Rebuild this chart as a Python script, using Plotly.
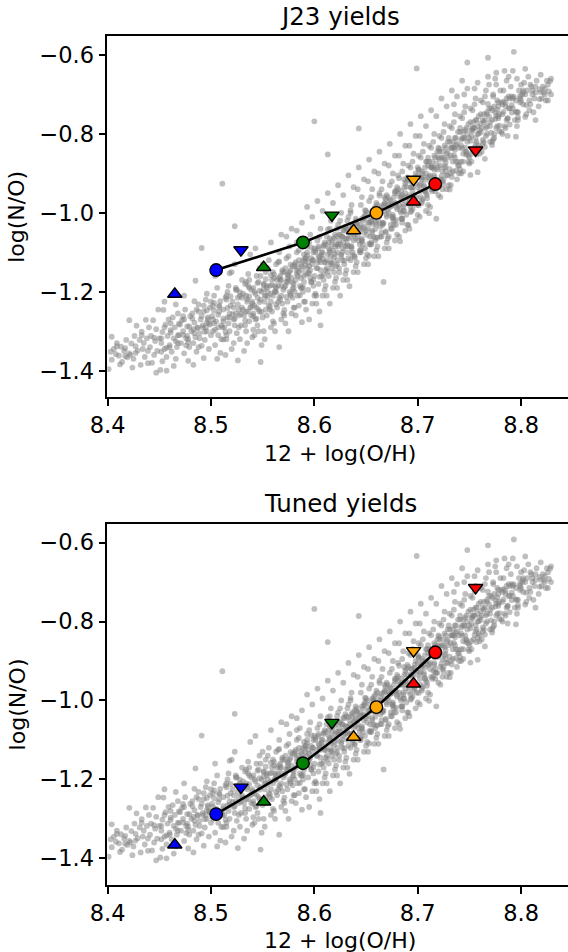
import plotly.graph_objects as go

# ---------------- data ----------------
# gray background sample: (12+log(O/H), log(N/O)) pairs
cloud_points = [
    (8.401,-1.396),(8.404,-1.372),(8.406,-1.345),(8.408,-1.358),(8.409,-1.33),(8.403,-1.352),
    (8.411,-1.362),(8.413,-1.339),(8.414,-1.378),(8.416,-1.35),(8.418,-1.322),(8.419,-1.366),(8.412,-1.384),(8.417,-1.343),
    (8.421,-1.356),(8.423,-1.331),(8.425,-1.37),(8.426,-1.312),(8.428,-1.286),(8.429,-1.349),(8.424,-1.392),(8.427,-1.338),(8.422,-1.36),
    (8.431,-1.322),(8.433,-1.301),(8.434,-1.345),(8.436,-1.365),(8.437,-1.271),(8.438,-1.318),(8.439,-1.35),(8.432,-1.385),(8.435,-1.33),(8.44,-1.29),
    (8.441,-1.34),(8.442,-1.312),(8.444,-1.272),(8.445,-1.36),(8.446,-1.325),(8.447,-1.295),(8.448,-1.35),(8.449,-1.245),(8.443,-1.38),(8.447,-1.405),(8.45,-1.318),
    (8.451,-1.398),(8.452,-1.33),(8.453,-1.302),(8.454,-1.246),(8.455,-1.345),(8.456,-1.283),(8.457,-1.365),(8.458,-1.312),(8.459,-1.27),(8.46,-1.34),(8.455,-1.225),(8.453,-1.376),
    (8.461,-1.303),(8.462,-1.352),(8.463,-1.265),(8.464,-1.318),(8.465,-1.29),(8.466,-1.37),(8.467,-1.34),(8.468,-1.255),(8.469,-1.31),(8.47,-1.283),(8.464,-1.388),(8.466,-1.232),
    (8.471,-1.33),(8.472,-1.272),(8.473,-1.3),(8.474,-1.356),(8.475,-1.245),(8.476,-1.318),(8.477,-1.288),(8.478,-1.375),(8.479,-1.34),(8.48,-1.262),(8.474,-1.21),(8.477,-1.312),
    (8.481,-1.3),(8.482,-1.255),(8.483,-1.33),(8.484,-1.278),(8.485,-1.172),(8.486,-1.352),(8.487,-1.29),(8.488,-1.232),(8.489,-1.318),(8.49,-1.27),(8.483,-1.385),(8.486,-1.245),(8.488,-1.34),(8.484,-1.305),
    (8.491,-1.089),(8.492,-1.285),(8.493,-1.25),(8.494,-1.322),(8.495,-1.22),(8.496,-1.3),(8.497,-1.265),(8.498,-1.345),(8.499,-1.24),(8.5,-1.31),(8.493,-1.368),(8.496,-1.205),(8.498,-1.28),(8.495,-1.29),(8.491,-1.337),
    (8.501,-1.262),(8.502,-1.3),(8.503,-1.228),(8.504,-1.335),(8.505,-1.275),(8.506,-1.19),(8.507,-1.31),(8.508,-1.25),(8.509,-1.355),(8.51,-1.285),(8.503,-1.21),(8.506,-1.37),(8.508,-1.238),(8.504,-1.16),(8.51,-1.32),(8.502,-1.27),
    (8.511,-0.926),(8.512,-1.245),(8.513,-1.29),(8.514,-1.215),(8.515,-1.32),(8.516,-1.265),(8.517,-1.185),(8.518,-1.3),(8.519,-1.235),(8.52,-1.345),(8.512,-1.275),(8.514,-1.36),(8.516,-1.2),(8.518,-1.255),(8.52,-1.15),(8.515,-1.31),(8.517,-1.28),
    (8.521,-1.225),(8.522,-1.27),(8.523,-1.034),(8.524,-1.19),(8.525,-1.305),(8.526,-1.374),(8.527,-1.245),(8.528,-1.21),(8.529,-1.285),(8.53,-1.17),(8.522,-1.33),(8.524,-1.255),(8.526,-1.215),(8.528,-1.32),(8.53,-1.24),(8.523,-1.13),(8.527,-1.29),(8.525,-1.195),
    (8.531,-1.205),(8.532,-1.26),(8.533,-1.18),(8.534,-1.3),(8.535,-1.225),(8.536,-1.155),(8.537,-1.275),(8.538,-1.24),(8.539,-1.195),(8.54,-1.315),(8.532,-1.35),(8.534,-1.21),(8.536,-1.25),(8.538,-1.105),(8.54,-1.23),(8.533,-1.285),(8.537,-1.17),(8.535,-1.33),(8.539,-1.26),
    (8.541,-1.19),(8.542,-1.235),(8.543,-1.27),(8.544,-1.16),(8.545,-1.215),(8.546,-1.3),(8.547,-1.25),(8.548,-1.378),(8.549,-1.2),(8.55,-1.13),(8.542,-1.31),(8.544,-1.24),(8.546,-1.175),(8.548,-1.22),(8.55,-1.265),(8.543,-1.09),(8.545,-1.285),(8.547,-1.14),(8.549,-1.335),(8.541,-1.255),
    (8.551,-1.18),(8.552,-1.225),(8.553,-1.15),(8.554,-1.26),(8.555,-1.2),(8.556,-1.12),(8.557,-1.245),(8.558,-1.29),(8.559,-1.17),(8.56,-1.21),(8.552,-1.32),(8.554,-1.19),(8.556,-1.235),(8.558,-1.075),(8.56,-1.275),(8.553,-1.21),(8.555,-1.14),(8.557,-1.185),(8.559,-1.25),(8.551,-1.3),(8.558,-1.205),
    (8.561,-1.165),(8.562,-1.2),(8.563,-1.13),(8.564,-1.24),(8.565,-1.185),(8.566,-1.1),(8.567,-1.22),(8.568,-1.27),(8.569,-1.15),(8.57,-1.195),(8.562,-1.3),(8.564,-1.17),(8.566,-1.215),(8.568,-1.055),(8.57,-1.255),(8.563,-1.19),(8.565,-1.125),(8.567,-1.16),(8.569,-1.23),(8.561,-1.28),(8.568,-1.185),(8.566,-1.34),
    (8.571,-1.15),(8.572,-1.185),(8.573,-1.115),(8.574,-1.225),(8.575,-1.17),(8.576,-1.085),(8.577,-1.205),(8.578,-1.255),(8.579,-1.135),(8.58,-1.18),(8.572,-1.28),(8.574,-1.155),(8.576,-1.2),(8.578,-1.04),(8.58,-1.24),(8.573,-1.175),(8.575,-1.11),(8.577,-1.145),(8.579,-1.215),(8.571,-1.26),(8.578,-1.165),(8.575,-1.3),(8.573,-1.06),
    (8.581,-1.13),(8.582,-1.17),(8.583,-1.1),(8.584,-1.21),(8.585,-1.15),(8.586,-1.07),(8.587,-1.19),(8.588,-1.277),(8.589,-1.12),(8.59,-1.16),(8.582,-1.26),(8.584,-1.14),(8.586,-1.185),(8.588,-1.025),(8.59,-1.225),(8.583,-1.155),(8.585,-1.095),(8.587,-1.13),(8.589,-1.2),(8.581,-1.24),(8.588,-1.145),(8.585,-1.235),(8.583,-1.045),(8.59,-1.105),
    (8.591,-1.115),(8.592,-1.155),(8.593,-1.085),(8.594,-1.195),(8.595,-1.135),(8.596,-1.055),(8.597,-1.175),(8.598,-1.23),(8.599,-1.1),(8.6,-0.768),(8.592,-1.245),(8.594,-1.125),(8.596,-1.165),(8.598,-1.01),(8.6,-1.21),(8.593,-1.14),(8.595,-1.075),(8.597,-1.115),(8.599,-1.185),(8.591,-1.225),(8.598,-1.13),(8.595,-1.27),(8.593,-0.985),(8.6,-1.09),
    (8.601,-1.1),(8.602,-1.14),(8.603,-1.07),(8.604,-1.18),(8.605,-1.12),(8.606,-1.04),(8.607,-1.16),(8.608,-1.21),(8.609,-1.085),(8.61,-1.125),(8.602,-1.23),(8.604,-1.11),(8.606,-1.285),(8.608,-0.995),(8.61,-1.195),(8.603,-1.125),(8.605,-1.06),(8.607,-1.1),(8.609,-1.17),(8.601,-1.205),(8.608,-1.115),(8.605,-1.25),(8.603,-0.97),(8.61,-1.075),(8.606,-1.145),
    (8.611,-1.08),(8.612,-1.12),(8.613,-0.852),(8.614,-1.16),(8.615,-1.1),(8.616,-1.02),(8.617,-1.14),(8.618,-1.19),(8.619,-1.065),(8.62,-1.105),(8.612,-1.21),(8.614,-1.09),(8.616,-1.13),(8.618,-0.975),(8.62,-1.175),(8.613,-1.105),(8.615,-1.04),(8.617,-1.08),(8.619,-1.15),(8.611,-1.185),(8.618,-1.095),(8.615,-1.23),(8.613,-0.95),(8.62,-1.055),(8.616,-1.125),(8.612,-1.06),
    (8.621,-1.06),(8.622,-1.1),(8.623,-1.03),(8.624,-1.14),(8.625,-1.08),(8.626,-1.0),(8.627,-1.12),(8.628,-1.17),(8.629,-1.045),(8.63,-1.085),(8.622,-1.19),(8.624,-1.07),(8.626,-1.11),(8.628,-0.955),(8.63,-1.155),(8.623,-1.085),(8.625,-1.02),(8.627,-1.06),(8.629,-1.13),(8.621,-1.165),(8.628,-1.075),(8.625,-1.21),(8.623,-0.93),(8.63,-1.035),(8.626,-1.105),(8.622,-1.04),
    (8.631,-1.04),(8.632,-1.08),(8.633,-1.01),(8.634,-1.186),(8.635,-1.06),(8.636,-0.98),(8.637,-1.1),(8.638,-1.15),(8.639,-1.025),(8.64,-1.065),(8.632,-1.17),(8.634,-1.05),(8.636,-1.09),(8.638,-0.935),(8.64,-1.135),(8.633,-1.065),(8.635,-1.0),(8.637,-1.04),(8.639,-1.11),(8.631,-1.145),(8.638,-1.055),(8.635,-1.12),(8.633,-0.905),(8.64,-1.015),(8.636,-1.085),(8.632,-1.02),
    (8.641,-1.02),(8.642,-1.06),(8.643,-0.786),(8.644,-1.1),(8.645,-1.04),(8.646,-0.96),(8.647,-1.08),(8.648,-1.13),(8.649,-1.005),(8.65,-1.045),(8.642,-1.15),(8.644,-1.03),(8.646,-1.07),(8.648,-0.915),(8.65,-1.115),(8.643,-1.045),(8.645,-0.98),(8.647,-1.02),(8.649,-1.09),(8.641,-1.125),(8.648,-1.035),(8.645,-1.1),(8.643,-0.885),(8.65,-0.995),(8.646,-1.065),(8.642,-0.94),
    (8.651,-1.0),(8.652,-1.04),(8.653,-0.97),(8.654,-1.08),(8.655,-1.02),(8.656,-0.94),(8.657,-1.06),(8.658,-1.11),(8.659,-0.985),(8.66,-1.025),(8.652,-1.13),(8.654,-1.01),(8.656,-1.05),(8.658,-0.895),(8.66,-1.095),(8.653,-1.025),(8.655,-0.96),(8.657,-1.0),(8.659,-1.07),(8.651,-1.105),(8.658,-1.015),(8.655,-1.08),(8.653,-0.865),(8.66,-0.975),(8.656,-1.045),(8.652,-0.92),
    (8.661,-0.98),(8.662,-1.02),(8.663,-0.95),(8.664,-1.06),(8.665,-1.0),(8.666,-0.92),(8.667,-1.175),(8.668,-1.09),(8.669,-0.965),(8.67,-1.005),(8.662,-1.11),(8.664,-0.99),(8.666,-1.03),(8.668,-0.875),(8.67,-1.075),(8.663,-1.005),(8.665,-0.94),(8.667,-0.98),(8.669,-1.05),(8.661,-1.085),(8.668,-0.995),(8.665,-1.06),(8.663,-0.845),(8.67,-0.955),(8.666,-1.025),(8.662,-0.9),
    (8.671,-0.96),(8.672,-1.0),(8.673,-0.93),(8.674,-1.04),(8.675,-0.98),(8.676,-0.9),(8.677,-1.02),(8.678,-1.07),(8.679,-0.945),(8.68,-0.985),(8.672,-1.09),(8.674,-0.97),(8.676,-1.01),(8.678,-0.855),(8.68,-1.055),(8.673,-0.985),(8.675,-0.92),(8.677,-0.96),(8.679,-1.03),(8.671,-1.065),(8.678,-0.975),(8.675,-1.04),(8.673,-0.825),(8.68,-0.935),(8.676,-1.005),(8.672,-0.88),
    (8.681,-0.94),(8.682,-0.98),(8.683,-1.072),(8.684,-1.015),(8.685,-0.955),(8.686,-0.875),(8.687,-0.995),(8.688,-1.045),(8.689,-0.92),(8.69,-0.96),(8.682,-1.06),(8.684,-0.945),(8.686,-0.985),(8.688,-0.83),(8.69,-1.03),(8.683,-0.96),(8.685,-0.895),(8.687,-0.935),(8.689,-1.005),(8.681,-0.905),(8.688,-0.95),(8.685,-1.015),(8.683,-0.8),(8.69,-0.91),(8.686,-0.98),(8.682,-0.855),
    (8.691,-0.915),(8.692,-0.955),(8.693,-0.885),(8.694,-0.995),(8.695,-0.935),(8.696,-0.85),(8.697,-0.97),(8.698,-1.02),(8.699,-0.634),(8.7,-0.935),(8.692,-1.04),(8.694,-0.92),(8.696,-0.96),(8.698,-0.805),(8.7,-1.005),(8.693,-0.935),(8.695,-0.87),(8.697,-0.91),(8.699,-0.98),(8.691,-0.88),(8.698,-0.925),(8.695,-0.99),(8.693,-0.775),(8.7,-0.885),(8.696,-0.955),(8.692,-0.83),
    (8.701,-0.89),(8.702,-0.93),(8.703,-0.86),(8.704,-0.97),(8.705,-0.91),(8.706,-0.825),(8.707,-0.945),(8.708,-0.995),(8.709,-0.87),(8.71,-0.91),(8.702,-1.01),(8.704,-0.895),(8.706,-0.935),(8.708,-0.78),(8.71,-0.98),(8.703,-0.91),(8.705,-0.845),(8.707,-0.885),(8.709,-0.955),(8.701,-0.855),(8.708,-0.9),(8.705,-0.965),(8.703,-0.755),(8.71,-0.86),(8.706,-0.93),(8.702,-0.805),
    (8.711,-0.87),(8.712,-0.905),(8.713,-0.835),(8.714,-0.945),(8.715,-0.885),(8.716,-0.8),(8.717,-0.92),(8.718,-1.015),(8.719,-0.845),(8.72,-0.885),(8.712,-0.985),(8.714,-0.87),(8.716,-0.91),(8.718,-0.755),(8.72,-0.955),(8.713,-0.885),(8.715,-0.82),(8.717,-0.86),(8.719,-0.93),(8.711,-0.83),(8.718,-0.875),(8.715,-0.94),(8.713,-0.74),(8.72,-0.835),(8.716,-0.905),
    (8.721,-0.845),(8.722,-0.88),(8.723,-0.81),(8.724,-0.92),(8.725,-0.86),(8.726,-0.775),(8.727,-0.895),(8.728,-0.94),(8.729,-0.82),(8.73,-0.86),(8.722,-0.96),(8.724,-0.845),(8.726,-0.885),(8.728,-0.73),(8.73,-0.93),(8.723,-0.86),(8.725,-0.795),(8.727,-0.835),(8.729,-0.905),(8.721,-0.805),(8.728,-0.85),(8.725,-0.915),(8.723,-0.71),(8.73,-0.81),
    (8.731,-0.82),(8.732,-0.855),(8.733,-0.785),(8.734,-0.895),(8.735,-0.835),(8.736,-0.75),(8.737,-0.87),(8.738,-0.915),(8.739,-0.795),(8.74,-0.835),(8.732,-0.93),(8.734,-0.82),(8.736,-0.86),(8.738,-0.705),(8.74,-0.9),(8.733,-0.835),(8.735,-0.77),(8.737,-0.81),(8.739,-0.88),(8.731,-0.78),(8.738,-0.825),(8.735,-0.725),(8.733,-0.69),
    (8.741,-0.795),(8.742,-0.83),(8.743,-0.76),(8.744,-0.87),(8.745,-0.81),(8.746,-0.73),(8.747,-0.845),(8.748,-0.619),(8.749,-0.775),(8.75,-0.81),(8.742,-0.9),(8.744,-0.795),(8.746,-0.835),(8.748,-0.685),(8.75,-0.875),(8.743,-0.81),(8.745,-0.745),(8.747,-0.785),(8.749,-0.855),(8.741,-0.755),(8.748,-0.8),(8.745,-0.7),(8.743,-0.665),
    (8.751,-0.77),(8.752,-0.805),(8.753,-0.74),(8.754,-0.845),(8.755,-0.785),(8.756,-0.71),(8.757,-0.82),(8.758,-0.897),(8.759,-0.755),(8.76,-0.79),(8.752,-0.87),(8.754,-0.77),(8.756,-0.81),(8.758,-0.67),(8.76,-0.85),(8.753,-0.785),(8.755,-0.725),(8.757,-0.765),(8.759,-0.83),(8.751,-0.735),(8.758,-0.78),(8.755,-0.685),
    (8.761,-0.75),(8.762,-0.785),(8.763,-0.72),(8.764,-0.82),(8.765,-0.765),(8.766,-0.69),(8.767,-0.8),(8.768,-0.607),(8.769,-0.735),(8.77,-0.77),(8.762,-0.845),(8.764,-0.75),(8.766,-0.785),(8.768,-0.655),(8.77,-0.82),(8.763,-0.765),(8.765,-0.705),(8.767,-0.745),(8.769,-0.675),(8.761,-0.715),
    (8.771,-0.735),(8.772,-0.765),(8.773,-0.705),(8.774,-0.8),(8.775,-0.745),(8.776,-0.675),(8.777,-0.78),(8.778,-0.72),(8.779,-0.75),(8.78,-0.69),(8.772,-0.82),(8.774,-0.73),(8.776,-0.645),(8.778,-0.76),(8.773,-0.7),(8.775,-0.66),(8.777,-0.715),
    (8.781,-0.72),(8.782,-0.75),(8.783,-0.69),(8.784,-0.78),(8.785,-0.73),(8.786,-0.665),(8.787,-0.76),(8.788,-0.705),(8.789,-0.735),(8.79,-0.68),(8.782,-0.8),(8.784,-0.64),(8.786,-0.71),(8.788,-0.655),
    (8.791,-0.705),(8.792,-0.735),(8.793,-0.592),(8.794,-0.765),(8.795,-0.715),(8.796,-0.66),(8.797,-0.745),(8.798,-0.69),(8.799,-0.72),(8.8,-0.675),(8.792,-0.64),(8.796,-0.78),
    (8.801,-0.7),(8.802,-0.725),(8.803,-0.67),(8.805,-0.75),(8.806,-0.69),(8.807,-0.655),(8.808,-0.715),(8.81,-0.68),(8.804,-0.635),
    (8.811,-0.69),(8.813,-0.71),(8.815,-0.665),(8.817,-0.73),(8.818,-0.687),(8.819,-0.65),
    (8.821,-0.68),(8.823,-0.70),(8.825,-0.665),(8.827,-0.692),(8.829,-0.66),(8.826,-0.715),
]

# extra points in the dense ridge of the gray cloud
cloud_core = [
    (8.452,-1.318),(8.457,-1.342),(8.461,-1.297),(8.466,-1.325),(8.469,-1.281),(8.473,-1.309),(8.476,-1.336),(8.479,-1.288),
    (8.482,-1.268),(8.485,-1.315),(8.487,-1.292),(8.491,-1.262),(8.494,-1.301),(8.496,-1.247),(8.499,-1.283),(8.502,-1.236),
    (8.504,-1.296),(8.507,-1.258),(8.509,-1.224),(8.512,-1.268),(8.514,-1.302),(8.516,-1.241),(8.519,-1.212),(8.521,-1.257),
    (8.523,-1.285),(8.526,-1.232),(8.528,-1.201),(8.531,-1.246),(8.533,-1.273),(8.535,-1.219),(8.537,-1.19),(8.539,-1.238),
    (8.541,-1.262),(8.543,-1.205),(8.545,-1.178),(8.547,-1.226),(8.549,-1.251),(8.551,-1.194),(8.553,-1.168),(8.555,-1.213),
    (8.557,-1.238),(8.559,-1.183),(8.561,-1.156),(8.563,-1.201),(8.565,-1.226),(8.567,-1.171),(8.569,-1.145),(8.571,-1.189),
    (8.573,-1.213),(8.575,-1.158),(8.577,-1.131),(8.579,-1.177),(8.581,-1.2),(8.583,-1.146),(8.585,-1.12),(8.587,-1.165),
    (8.589,-1.188),(8.591,-1.133),(8.593,-1.108),(8.595,-1.152),(8.597,-1.175),(8.599,-1.12),(8.601,-1.095),(8.603,-1.14),
    (8.605,-1.162),(8.607,-1.107),(8.609,-1.082),(8.611,-1.126),(8.613,-1.149),(8.615,-1.094),(8.617,-1.069),(8.619,-1.113),
    (8.621,-1.135),(8.623,-1.08),(8.625,-1.056),(8.627,-1.099),(8.629,-1.121),(8.631,-1.066),(8.633,-1.042),(8.635,-1.085),
    (8.637,-1.107),(8.639,-1.052),(8.641,-1.028),(8.643,-1.071),(8.645,-1.093),(8.647,-1.038),(8.649,-1.013),(8.651,-1.056),
    (8.653,-1.078),(8.655,-1.023),(8.657,-0.998),(8.659,-1.041),(8.661,-1.063),(8.663,-1.008),(8.665,-0.983),(8.667,-1.026),
    (8.669,-1.047),(8.671,-0.992),(8.673,-0.967),(8.675,-1.01),(8.677,-1.031),(8.679,-0.976),(8.681,-0.951),(8.683,-0.994),
    (8.685,-1.015),(8.687,-0.96),(8.689,-0.934),(8.691,-0.977),(8.693,-0.998),(8.695,-0.943),(8.697,-0.917),(8.699,-0.96),
    (8.701,-0.981),(8.703,-0.926),(8.705,-0.9),(8.707,-0.943),(8.709,-0.963),(8.711,-0.908),(8.713,-0.882),(8.715,-0.925),
    (8.717,-0.945),(8.719,-0.89),(8.721,-0.864),(8.723,-0.907),(8.725,-0.927),(8.727,-0.872),(8.729,-0.846),(8.731,-0.889),
    (8.733,-0.909),(8.735,-0.854),(8.737,-0.828),(8.739,-0.871),(8.741,-0.89),(8.743,-0.836),(8.745,-0.81),(8.747,-0.852),
    (8.749,-0.871),(8.751,-0.817),(8.753,-0.792),(8.755,-0.834),(8.757,-0.852),(8.759,-0.799),(8.761,-0.774),(8.763,-0.815),
    (8.765,-0.833),(8.767,-0.78),(8.769,-0.756),(8.771,-0.797),(8.773,-0.814),(8.775,-0.762),(8.777,-0.739),(8.779,-0.779),
    (8.781,-0.795),(8.783,-0.744),(8.785,-0.722),(8.787,-0.761),(8.789,-0.776),(8.791,-0.727),(8.793,-0.706),(8.795,-0.744),
    (8.797,-0.758),(8.799,-0.71),(8.802,-0.69),(8.805,-0.727),(8.808,-0.74),(8.811,-0.7),(8.814,-0.68),(8.818,-0.712),
    (8.822,-0.695),(8.826,-0.675),(8.829,-0.70),
    (8.455,-1.29),(8.46,-1.335),(8.468,-1.31),(8.474,-1.27),(8.478,-1.32),(8.483,-1.295),(8.488,-1.25),(8.492,-1.29),
    (8.497,-1.27),(8.5,-1.225),(8.503,-1.28),(8.508,-1.235),(8.511,-1.29),(8.515,-1.22),(8.518,-1.265),(8.522,-1.24),
    (8.524,-1.195),(8.527,-1.26),(8.53,-1.215),(8.534,-1.25),(8.536,-1.185),(8.54,-1.225),(8.542,-1.2),(8.546,-1.245),
    (8.548,-1.16),(8.552,-1.21),(8.554,-1.185),(8.558,-1.225),(8.56,-1.15),(8.562,-1.185),(8.566,-1.165),(8.568,-1.21),
    (8.572,-1.14),(8.574,-1.175),(8.576,-1.15),(8.58,-1.19),(8.582,-1.125),(8.584,-1.16),(8.588,-1.135),(8.59,-1.175),
    (8.592,-1.115),(8.596,-1.145),(8.598,-1.12),(8.6,-1.16),(8.604,-1.09),(8.606,-1.125),(8.608,-1.1),(8.612,-1.14),
    (8.614,-1.075),(8.616,-1.11),(8.62,-1.085),(8.622,-1.12),(8.624,-1.055),(8.628,-1.09),(8.63,-1.065),(8.632,-1.1),
    (8.636,-1.035),(8.638,-1.07),(8.64,-1.045),(8.644,-1.08),(8.646,-1.015),(8.648,-1.05),(8.652,-1.025),(8.654,-1.06),
    (8.656,-0.995),(8.66,-1.03),(8.662,-1.0),(8.664,-1.035),(8.668,-0.975),(8.67,-1.01),(8.672,-0.98),(8.676,-1.015),
    (8.678,-0.95),(8.68,-0.99),(8.684,-0.96),(8.686,-0.995),(8.688,-0.925),(8.692,-0.965),(8.694,-0.935),(8.696,-0.975),
    (8.7,-0.905),(8.702,-0.945),(8.704,-0.915),(8.708,-0.95),(8.71,-0.88),(8.712,-0.92),(8.716,-0.89),(8.718,-0.93),
    (8.72,-0.86),(8.724,-0.895),(8.726,-0.865),(8.728,-0.905),(8.732,-0.835),(8.734,-0.87),(8.736,-0.84),(8.74,-0.88),
    (8.742,-0.815),(8.744,-0.85),(8.748,-0.82),(8.75,-0.86),(8.752,-0.79),(8.756,-0.825),(8.758,-0.8),(8.76,-0.835),
    (8.764,-0.77),(8.766,-0.805),(8.77,-0.78),(8.772,-0.74),(8.776,-0.785),(8.778,-0.755),(8.782,-0.725),(8.786,-0.765),
    (8.788,-0.735),(8.792,-0.71),(8.796,-0.745),(8.8,-0.715),(8.804,-0.7),(8.809,-0.725),(8.814,-0.695),(8.82,-0.71),
]

# further scattered points filling the band irregularly
cloud_fill = [
    (8.404,-1.314),(8.417,-1.363),(8.421,-1.272),(8.439,-1.381),(8.445,-1.316),(8.457,-1.40),(8.461,-1.28),(8.478,-1.328),
    (8.484,-1.224),(8.496,-1.278),(8.503,-1.248),(8.512,-1.321),(8.518,-1.153),(8.529,-1.256),(8.534,-1.175),(8.541,-1.296),
    (8.547,-1.197),(8.553,-1.245),(8.558,-1.158),(8.562,-1.198),(8.566,-1.123),(8.571,-1.246),(8.574,-1.165),(8.579,-1.193),
    (8.583,-1.075),(8.586,-1.209),(8.591,-1.122),(8.594,-1.153),(8.597,-1.088),(8.602,-1.21),(8.605,-1.113),(8.609,-1.156),
    (8.613,-1.042),(8.617,-1.127),(8.621,-1.079),(8.624,-1.151),(8.628,-1.044),(8.632,-1.084),(8.635,-0.994),(8.639,-1.113),
    (8.642,-1.033),(8.646,-1.071),(8.649,-0.993),(8.653,-1.109),(8.656,-1.028),(8.659,-1.063),(8.663,-0.956),(8.666,-1.027),
    (8.669,-0.978),(8.672,-1.06),(8.675,-0.982),(8.679,-1.018),(8.682,-0.912),(8.685,-1.025),(8.688,-0.97),(8.691,-1.031),
    (8.694,-0.92),(8.697,-0.965),(8.701,-0.891),(8.704,-0.975),(8.707,-0.916),(8.711,-1.001),(8.714,-0.885),(8.717,-0.929),
    (8.721,-0.838),(8.724,-0.94),(8.727,-0.882),(8.731,-0.941),(8.734,-0.834),(8.737,-0.893),(8.741,-0.785),(8.744,-0.895),
    (8.747,-0.847),(8.751,-0.904),(8.754,-0.785),(8.758,-0.841),(8.761,-0.796),(8.765,-0.863),(8.768,-0.724),(8.772,-0.828),
    (8.776,-0.754),(8.779,-0.793),(8.783,-0.718),(8.787,-0.805),(8.791,-0.746),(8.795,-0.807),(8.799,-0.704),(8.804,-0.757),
    (8.809,-0.675),(8.814,-0.765),(8.819,-0.694),(8.824,-0.715),(8.828,-0.666),
    (8.409,-1.338),(8.427,-1.355),(8.433,-1.31),(8.452,-1.352),(8.468,-1.33),(8.473,-1.262),(8.489,-1.305),(8.493,-1.235),
    (8.507,-1.29),(8.515,-1.21),(8.523,-1.268),(8.537,-1.212),(8.544,-1.268),(8.551,-1.182),(8.563,-1.232),(8.568,-1.17),
    (8.577,-1.21),(8.581,-1.135),(8.588,-1.19),(8.593,-1.1),(8.599,-1.17),(8.604,-1.085),(8.611,-1.145),(8.615,-1.065),
    (8.622,-1.13),(8.627,-1.06),(8.633,-1.115),(8.637,-1.03),(8.644,-1.095),(8.648,-1.01),(8.655,-1.075),(8.658,-0.99),
    (8.665,-1.05),(8.668,-0.96),(8.674,-1.03),(8.678,-0.945),(8.684,-1.0),(8.687,-0.915),(8.693,-0.985),(8.698,-0.9),
    (8.703,-0.96),(8.708,-0.87),(8.713,-0.94),(8.716,-0.855),(8.722,-0.915),(8.726,-0.83),(8.732,-0.9),(8.736,-0.81),
    (8.742,-0.87),(8.746,-0.79),(8.752,-0.85),(8.756,-0.765),(8.763,-0.825),(8.767,-0.75),(8.774,-0.81),(8.778,-0.73),
    (8.785,-0.785),(8.789,-0.71),(8.797,-0.765),(8.802,-0.695),(8.812,-0.745),(8.823,-0.685),
]

all_cloud = cloud_points + cloud_core + cloud_fill
cloud_x = [p[0] for p in all_cloud]
cloud_y = [p[1] for p in all_cloud]

bin_colors = ["blue", "green", "orange", "red"]

# circles joined by the black line
mid_x = [8.505, 8.589, 8.660, 8.717]
mid_y_j23 = [-1.145, -1.075, -1.000, -0.927]
mid_y_tuned = [-1.288, -1.159, -1.017, -0.878]

# upward triangles
up_x = [8.465, 8.551, 8.638, 8.696]
up_y_j23 = [-1.206, -1.138, -1.045, -0.972]
up_y_tuned = [-1.366, -1.257, -1.093, -0.958]

# downward triangles
down_x = [8.529, 8.617, 8.696, 8.756]
down_y_j23 = [-1.094, -1.006, -0.915, -0.841]
down_y_tuned = [-1.220, -1.056, -0.874, -0.714]

panel_titles = ["J23 yields", "Tuned yields"]
x_ticks = [8.4, 8.5, 8.6, 8.7, 8.8]
y_ticks = [-1.4, -1.2, -1.0, -0.8, -0.6]

# ---------------- figure ----------------
W, H = 568, 952
FONT = "DejaVu Sans"
TICK = 22.5

fig = go.Figure()

panels = [
    ("x", "y", mid_y_j23, up_y_j23, down_y_j23),
    ("x2", "y2", mid_y_tuned, up_y_tuned, down_y_tuned),
]
for xa, ya, my, uy, dy in panels:
    fig.add_trace(go.Scatter(
        x=cloud_x, y=cloud_y, xaxis=xa, yaxis=ya, mode="markers",
        marker=dict(size=5.8, color="rgba(128,128,128,0.5)", line=dict(width=0)),
        showlegend=False, hoverinfo="skip"))
    fig.add_trace(go.Scatter(
        x=mid_x, y=my, xaxis=xa, yaxis=ya, mode="lines+markers",
        line=dict(color="black", width=2.6),
        marker=dict(size=12.5, color=bin_colors, line=dict(color="black", width=1.4)),
        showlegend=False))
    fig.add_trace(go.Scatter(
        x=up_x, y=uy, xaxis=xa, yaxis=ya, mode="markers",
        marker=dict(symbol="triangle-up", size=12.5, color=bin_colors,
                    line=dict(color="black", width=1.4)),
        showlegend=False))
    fig.add_trace(go.Scatter(
        x=down_x, y=dy, xaxis=xa, yaxis=ya, mode="markers",
        marker=dict(symbol="triangle-down", size=12.5, color=bin_colors,
                    line=dict(color="black", width=1.4)),
        showlegend=False))

def py(p):
    return 1 - p / H

x_left_px = 107.3
x_dom = [x_left_px / W, 1.0]
x_range = [8.3997, 8.8454]
y_range = [-1.4674, -0.5526]

top_box = (36.3, 397.3)
bot_box = (523.9, 884.9)

axis_common = dict(
    showgrid=False, zeroline=False, showline=True, linecolor="black", linewidth=1.5,
    ticks="outside", ticklen=7, tickwidth=1.5, tickcolor="black", automargin=False,
    tickfont=dict(family=FONT, size=TICK, color="black"),
)

fig.update_layout(
    width=W, height=H,
    margin=dict(l=0, r=0, t=0, b=0, autoexpand=False),
    paper_bgcolor="white", plot_bgcolor="white",
    font=dict(family=FONT, color="black"),
    xaxis=dict(domain=x_dom, range=x_range, anchor="y", tickvals=x_ticks,
               ticktext=[f"{v:.1f}" for v in x_ticks], mirror=True, **axis_common),
    yaxis=dict(domain=[py(top_box[1]), py(top_box[0])], range=y_range, anchor="x",
               tickvals=y_ticks, ticktext=[f"\u2212{abs(v):.1f}" for v in y_ticks],
               mirror=False, **axis_common),
    xaxis2=dict(domain=x_dom, range=x_range, anchor="y2", tickvals=x_ticks,
                ticktext=[f"{v:.1f}" for v in x_ticks], mirror=True, **axis_common),
    yaxis2=dict(domain=[py(bot_box[1]), py(bot_box[0])], range=y_range, anchor="x2",
                tickvals=y_ticks, ticktext=[f"\u2212{abs(v):.1f}" for v in y_ticks],
                mirror=False, **axis_common),
)

ann = []
for (top, bot), title in zip([top_box, bot_box], panel_titles):
    ann.append(dict(text=title, x=340 / W, y=py(top - 20), xref="paper", yref="paper",
                    xanchor="center", yanchor="middle", showarrow=False,
                    font=dict(family=FONT, size=24.5, color="black")))
    ann.append(dict(text="12 + log(O/H)", x=340 / W, y=py(bot + 56), xref="paper", yref="paper",
                    xanchor="center", yanchor="middle", showarrow=False,
                    font=dict(family=FONT, size=22, color="black")))
    ann.append(dict(text="log(N/O)", x=17 / W, y=py((top + bot) / 2), xref="paper", yref="paper",
                    xanchor="center", yanchor="middle", textangle=-90, showarrow=False,
                    font=dict(family=FONT, size=22, color="black")))
fig.update_layout(annotations=ann)

fig.write_html("out.html")
